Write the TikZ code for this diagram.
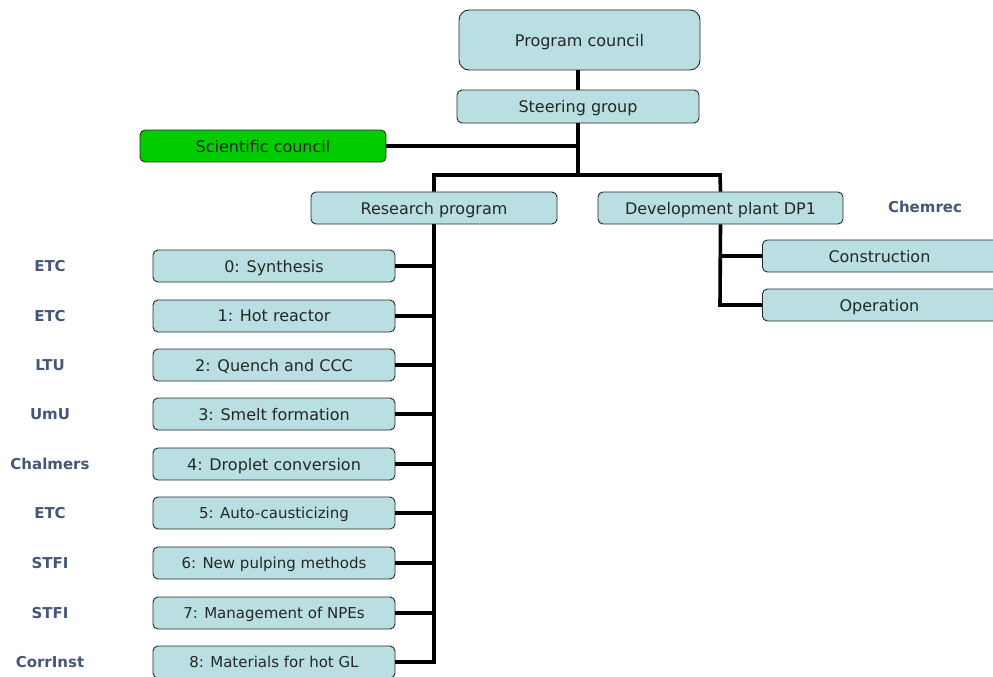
\documentclass[tikz,border=0pt]{standalone}
\usepackage{fontspec}
\setmainfont{DejaVu Sans}
\definecolor{boxfill}{RGB}{185,223,226}
\definecolor{boxline}{RGB}{40,40,40}
\definecolor{labcol}{RGB}{70,86,120}
\definecolor{sgreen}{RGB}{0,204,0}
\begin{document}
\begin{tikzpicture}[x=1pt,y=-1pt,
  box/.style={draw=boxline,line width=0.9pt,fill=boxfill,rounded corners=5pt,inner sep=0pt,
    text depth=0pt,font=\fontsize{16}{18}\selectfont,text=black!85},
  org/.style={font=\bfseries\fontsize{15}{17}\selectfont,text=labcol,text depth=0pt},
  link/.style={line width=3.6pt,black}]
\clip (0,0) rectangle (993,677);
\fill[white] (0,0) rectangle (993,677);
% top
\node[box,rounded corners=10pt,minimum width=241pt,minimum height=60pt] (pc) at (579.5,40) {Program council};
\node[box,minimum width=242pt,minimum height=33pt] (sg) at (578,106.5) {Steering group};
\node[box,fill=sgreen,minimum width=246pt,minimum height=32pt] (sc) at (263,146) {Scientific council};
\node[box,minimum width=246pt,minimum height=32pt] (rp) at (434,208) {Research program};
\node[box,minimum width=245pt,minimum height=32pt] (dp) at (720.5,208) {Development plant DP1};
\node[org] (chem) at (925,207) {Chemrec};
\node[box,minimum width=260pt,minimum height=32pt,anchor=west] (con) at (762,256) {\hspace*{-26pt}Construction};
\node[box,minimum width=260pt,minimum height=32pt,anchor=west] (op) at (762,305) {\hspace*{-26pt}Operation};
% coordinates
\coordinate (j1) at (578,146);
\coordinate (j2) at (578,175);
\coordinate (jl) at (434,175);
\coordinate (jr) at (720,175);
% research tasks
\foreach \i/\t/\o/\yy/\fs in {0/0: Synthesis/ETC/266/16,1/1: Hot reactor/ETC/316/16,2/2: Quench and CCC/LTU/365/16,
  3/3: Smelt formation/UmU/414/16,4/4: Droplet conversion/Chalmers/464/16,5/5: Auto-causticizing/ETC/513/15,
  6/6: New pulping methods/STFI/563/15,7/7: Management of NPEs/STFI/613/15,8/8: Materials for hot GL/CorrInst/662/15}{
  \node[box,minimum width=242pt,minimum height=32pt,font=\fontsize{\fs}{18}\selectfont] (t\i) at (274,\yy) {\t};
  \node[org] (o\i) at (50,\yy) {\o};
}
\coordinate (rb) at (434,662);
\coordinate (db) at (720,305);
% connectors
\draw[link] (sg.north) -- (sg.north |- pc.south);
\draw[link] (sg.south) -- (j2);
\draw[link] (sc.east) -- (j1);
\draw[link] (rp.north) -- (jl) -- (jr) -- (dp.north);
\draw[link] (rp.south) -- (rb) -- (t8.east);
\draw[link] (dp.south) -- (db) -- (op.west);
\foreach \i in {0,...,7}{\draw[link] (t\i.east) -- (t\i.east -| rb);}
\draw[link] (con.west -| db) -- (con.west);
\end{tikzpicture}
\end{document}
